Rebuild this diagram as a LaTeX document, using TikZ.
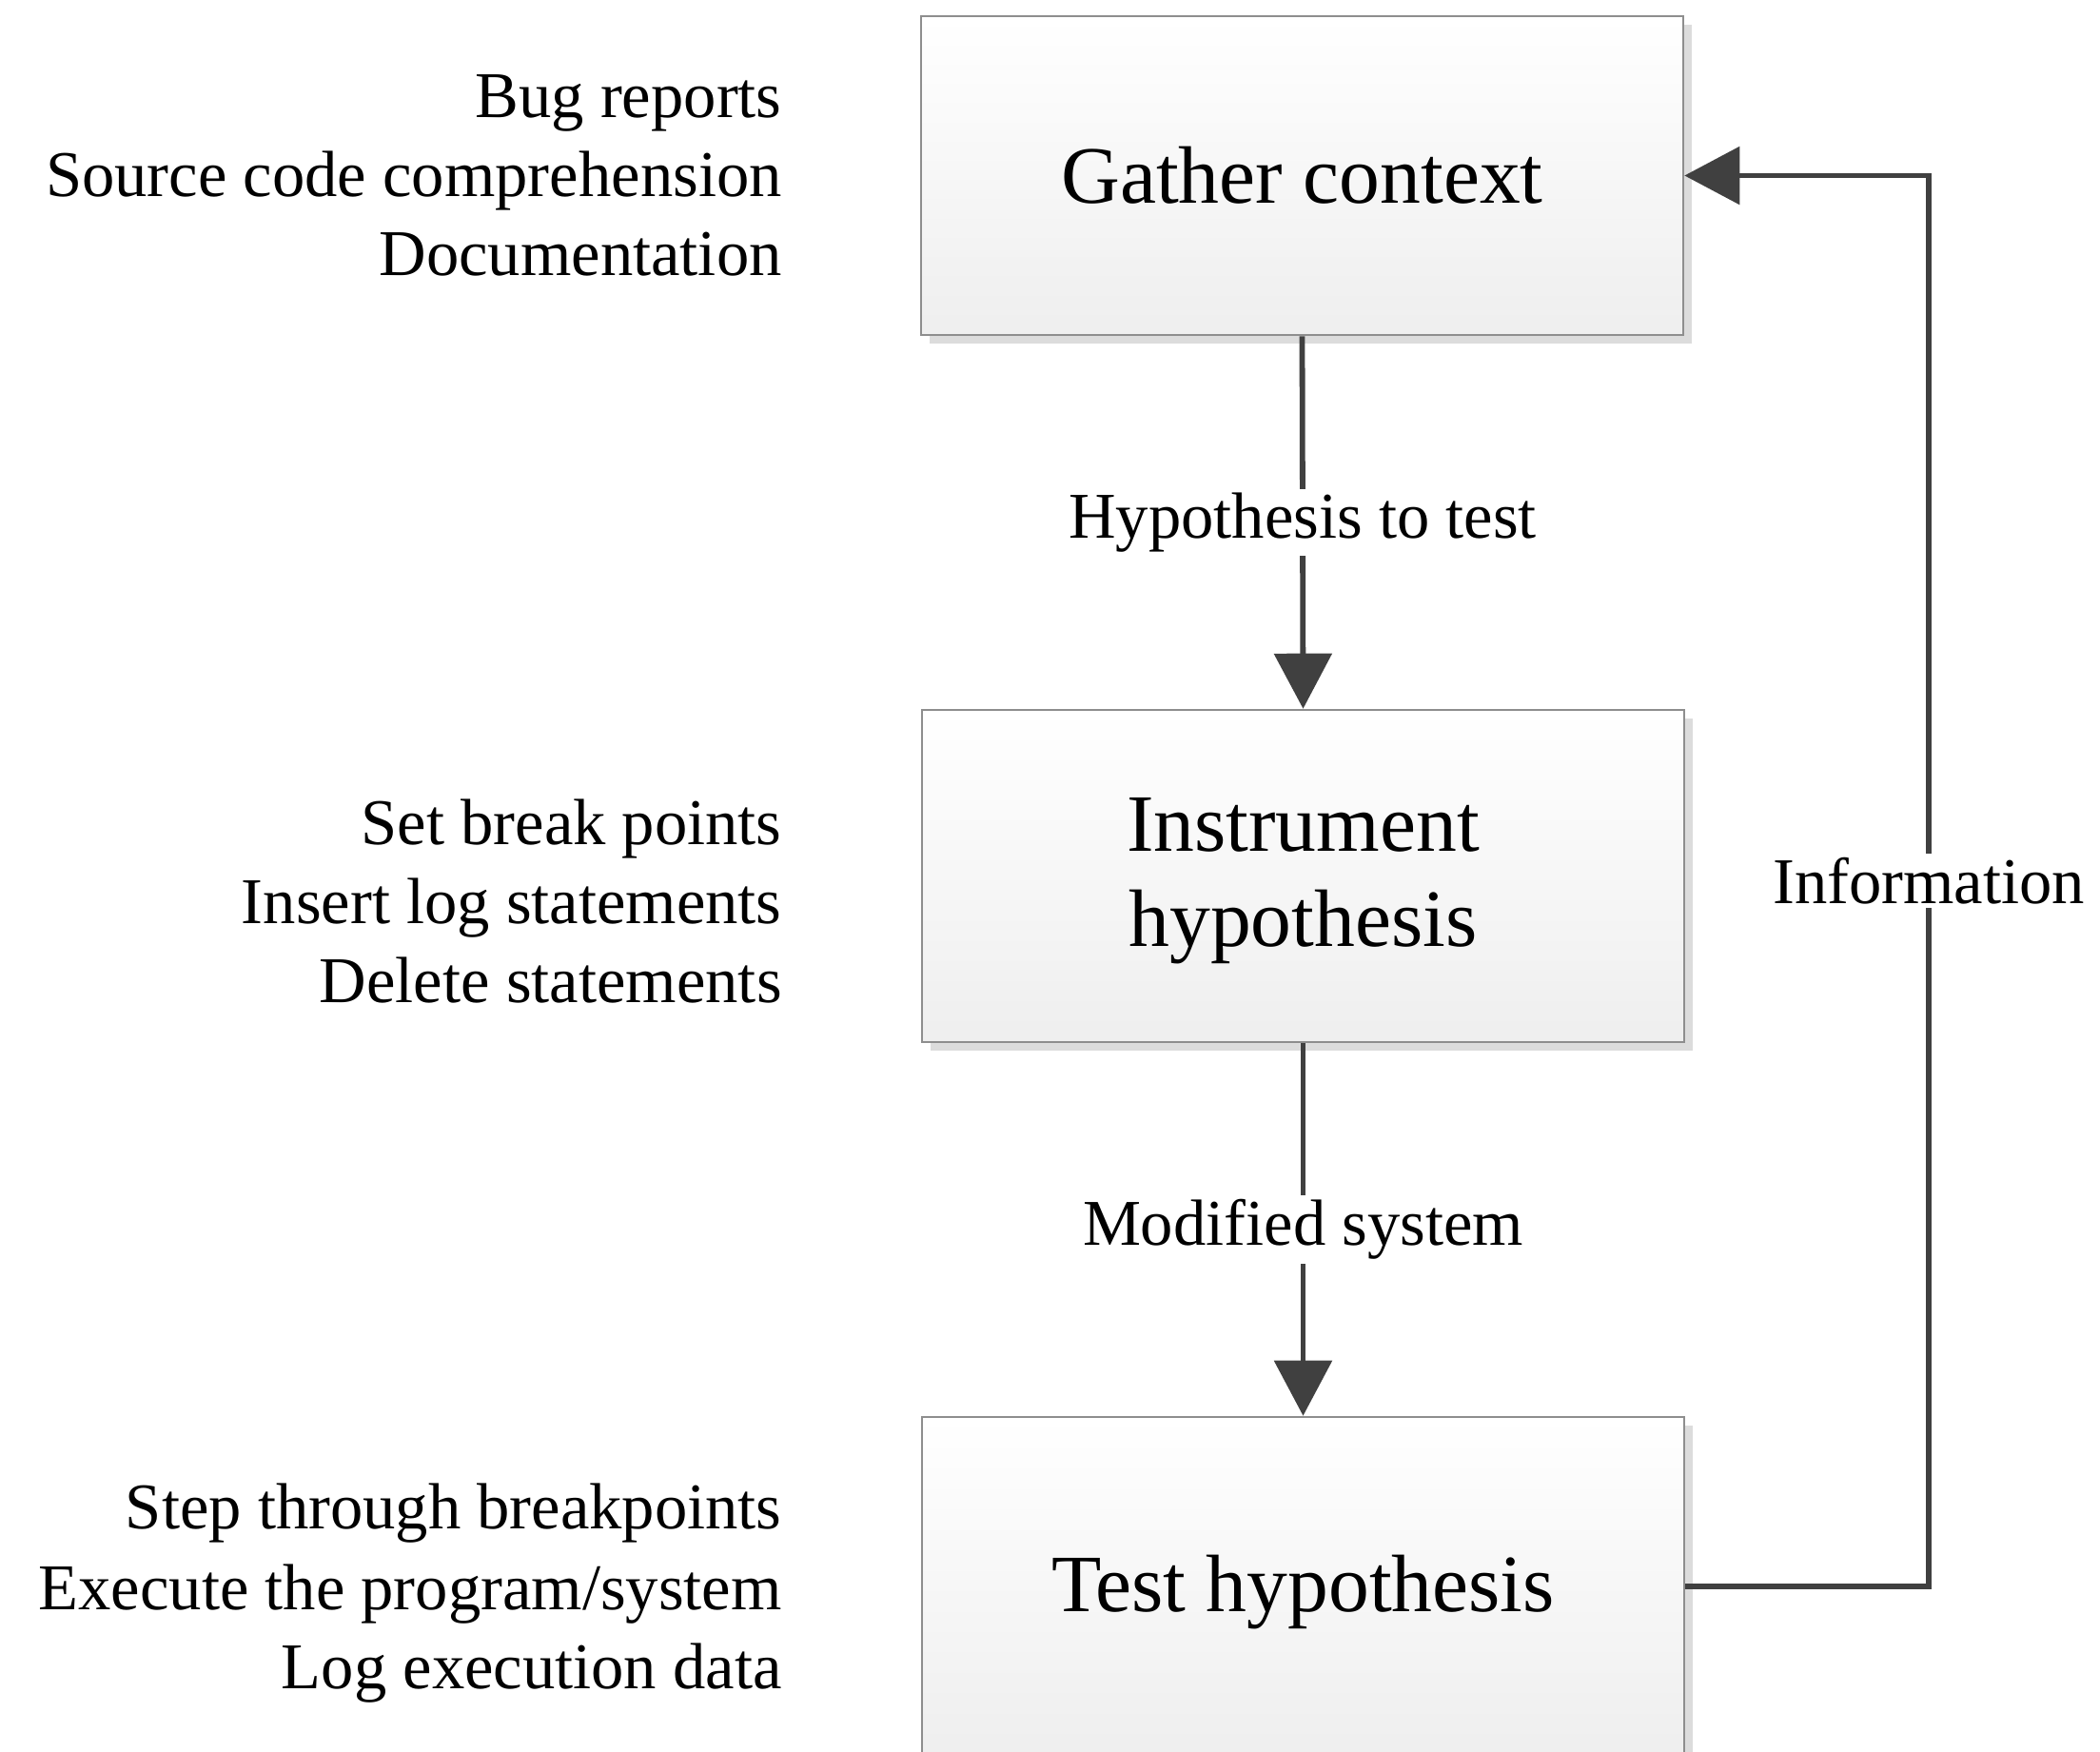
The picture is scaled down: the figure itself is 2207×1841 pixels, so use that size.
\documentclass[tikz,border=0pt]{standalone}
\usepackage{fontspec}
\setmainfont{Liberation Serif}
\usetikzlibrary{arrows.meta,shadows}

\definecolor{linkgray}{HTML}{404040}
\definecolor{framegray}{HTML}{8E8E8E}
\definecolor{shadegray}{HTML}{DCDCDC}

\begin{document}
\begin{tikzpicture}[x=0.5pt,y=-0.5pt,
  stage/.style={draw=framegray, line width=1.3pt, top color=white, bottom color=gray!13,
    minimum width=400.5pt, inner sep=0pt,
    drop shadow={shadow xshift=4.5pt, shadow yshift=-4.5pt, fill=shadegray, opacity=1}},
  stagetext/.style={align=center, inner sep=0pt, font=\fontsize{42.8}{50}\selectfont},
  flow/.style={draw=linkgray, line width=2.9pt, line join=miter,
    -{Triangle[length=29pt,width=30pt]}},
  lbl/.style={fill=white, inner sep=2pt, font=\fontsize{34.3}{41}\selectfont},
  note/.style={anchor=base east, inner sep=0pt, font=\fontsize{34.3}{41}\selectfont}]

\useasboundingbox (0,0) rectangle (2207,1841);

% process stages
\node[stage, minimum height=167.5pt] (gather) at (1368.5,184.5) {};
\node[stage, minimum height=174.5pt] (instr) at (1369.5,920.5) {};
\node[stage, minimum height=178pt] (test) at (1369.5,1667) {};

\node[stagetext] (gather-t) at (gather.center) {Gather context};
\node[stagetext] (instr-t) at ([yshift=-2.8pt]instr.center) {Instrument\\hypothesis};
\node[stagetext] (test-t) at ([yshift=-3.2pt]test.center) {Test hypothesis};

% activities for each stage
\node[note] (n1) at (822,124) {Bug reports};
\node[note] (n2) at (822,206) {Source code comprehension};
\node[note] (n3) at (822,289) {Documentation};
\node[note] (n4) at (822,887) {Set break points};
\node[note] (n5) at (822,970) {Insert log statements};
\node[note] (n6) at (822,1053) {Delete statements};
\node[note] (n7) at (822,1606) {Step through breakpoints};
\node[note] (n8) at (822,1691) {Execute the program/system};
\node[note] (n9) at (822,1774) {Log execution data};

% forward flow
\draw[flow] (gather.south) -- node[lbl] {Hypothesis to test} (instr.north);
\draw[flow] (instr.south) -- node[lbl] {Modified system} (test.north);

% feedback loop
\coordinate (loop) at (2027,0);
\draw[flow] (test.east) -- (test.east -| loop)
  -- node[lbl] {Information} (gather.east -| loop) -- (gather.east);
\end{tikzpicture}
\end{document}
